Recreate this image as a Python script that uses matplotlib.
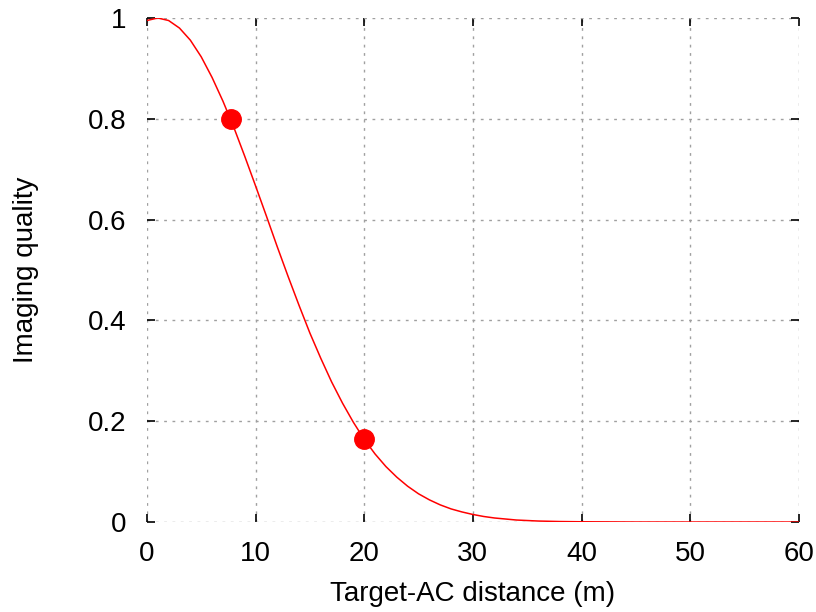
import matplotlib
matplotlib.use("Agg")
import matplotlib.pyplot as plt

plt.rcParams['font.family'] = ['Liberation Sans', 'DejaVu Sans']

# Curve values
curve_x = [0, 1, 2, 3, 4, 5, 6, 7, 8, 9, 10, 11, 12, 13, 14, 15, 16, 17, 18, 19,
           20, 21, 22, 23, 24, 25, 26, 27, 28, 29, 30, 31, 32, 33, 34, 35, 36, 38,
           40, 45, 50, 55, 60]
curve_y = [0.995, 1.0, 0.995, 0.980, 0.956, 0.923, 0.882, 0.835, 0.783, 0.726,
           0.667, 0.607, 0.546, 0.487, 0.430, 0.375, 0.325, 0.278, 0.236, 0.198,
           0.164, 0.135, 0.110, 0.089, 0.071, 0.056, 0.044, 0.034, 0.026, 0.020,
           0.015, 0.011, 0.008, 0.006, 0.004, 0.003, 0.002, 0.001,
           0.0005, 0.0, 0.0, 0.0, 0.0]

# Highlighted points
pts_x = [7.7, 20]
pts_y = [0.80, 0.165]

xticks = [0, 10, 20, 30, 40, 50, 60]
yticks = [0, 0.2, 0.4, 0.6, 0.8, 1]
ytick_labels = ['0', '0.2', '0.4', '0.6', '0.8', '1']

fig = plt.figure(figsize=(8.16, 6.12), dpi=100)
ax = fig.add_axes([0.180, 0.147, 0.799, 0.8236])

ax.plot(curve_x, curve_y, color='#ff0000', linewidth=1.1, zorder=3)
ax.plot(pts_x, pts_y, 'o', color='#ff0000', markersize=14, zorder=4)

ax.set_xlim(0, 60)
ax.set_ylim(0, 1)
ax.set_xticks(xticks)
ax.set_yticks(yticks)
ax.set_yticklabels(ytick_labels)

for s in ax.spines.values():
    s.set_visible(False)

ax.grid(True, color='#a0a0a0', linestyle=(0, (2, 4)), linewidth=1.0)
ax.set_axisbelow(True)

ax.tick_params(direction='in', length=6, width=1.2, color='black',
               top=True, right=True, labelsize=20)
ax.tick_params(axis='x', pad=14)
ax.tick_params(axis='y', pad=15)

ax.set_xlabel('Target-AC distance (m)', fontsize=20, labelpad=10)
ax.set_ylabel('Imaging quality', fontsize=20)
ax.yaxis.set_label_coords(-0.166, 0.5)

fig.savefig('out.png', dpi=100)
